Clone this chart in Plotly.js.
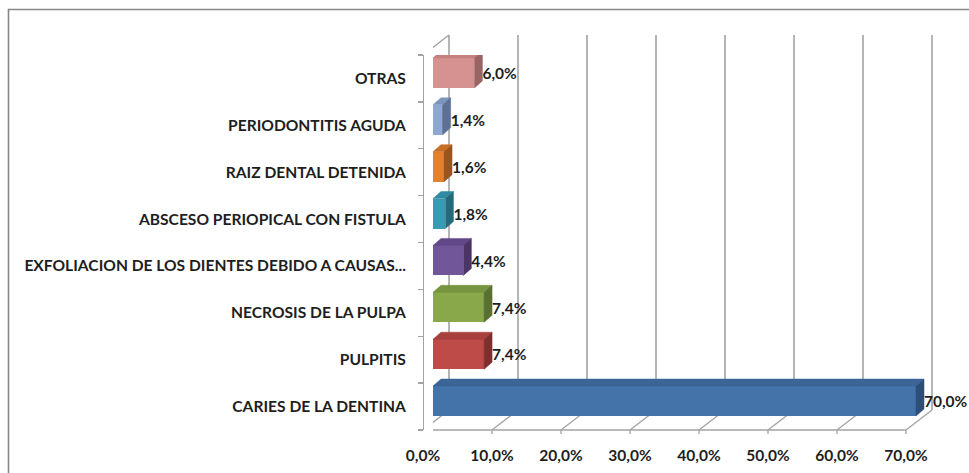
<!DOCTYPE html>
<html>
<head>
<meta charset="utf-8">
<script src="https://cdn.plot.ly/plotly-3.0.1.min.js"></script>
<style>html,body{margin:0;padding:0;background:#fff;}#chart{width:969px;height:473px;}</style>
</head>
<body>
<div id="chart"></div>
<script>
// ---- data ----
const categories = [
  'OTRAS',
  'PERIODONTITIS AGUDA',
  'RAIZ DENTAL DETENIDA',
  'ABSCESO PERIOPICAL CON FISTULA',
  'EXFOLIACION DE LOS DIENTES DEBIDO A CAUSAS...',
  'NECROSIS DE LA PULPA',
  'PULPITIS',
  'CARIES DE LA DENTINA'
];
const values = [6.0, 1.4, 1.6, 1.8, 4.4, 7.4, 7.4, 70.0];
const xTickVals = [0, 10, 20, 30, 40, 50, 60, 70];
const xTickText = ['0,0%', '10,0%', '20,0%', '30,0%', '40,0%', '50,0%', '60,0%', '70,0%'];
const frontColors = ['#d69291', '#8ea8d2', '#e3812f', '#389ab5', '#72569a', '#88a84a', '#be4b48', '#4473a9'];
const topColors   = ['#c47f7e', '#7c95bd', '#c96e25', '#2f8aa2', '#634888', '#779440', '#a73f3c', '#3b6597'];
const sideColors  = ['#9a6464', '#5e7194', '#9a541c', '#236a7c', '#4a3566', '#5a7030', '#7e2e2c', '#2c4e77'];

// ---- geometry (pixels) ----
const W = 969, H = 473;
const xRange = [0, 76];
const xAxisMax = 70;                             // last labelled value
const barPlaneLeft = 433;                        // bar front plane: value 0
const pxPerX = 6.9;                              // pixels per percentage point
const frontShift = -10, backShift = 16;          // axis front plane / back wall offsets
const frontTop = 55, frontBottom = 430;
const backTop = 35, backBottom = 410;
const depthX = 8, depthY = 7;                    // bar depth
const barUp = 5.5;                               // bars sit slightly behind the front plane
const barWidth = 0.64;
const n = categories.length;

const P = py => (H - py) / H;                    // pixel-from-top -> paper y
const barPlaneRight = barPlaneLeft + (xRange[1] - xRange[0]) * pxPerX;
const pxPerY = (frontBottom - frontTop) / n;
const dxU = depthX / pxPerX;
const dyU = depthY / pxPerY;
const upU = barUp / pxPerY;
const idx = categories.map((c, i) => i);

const FONT = 'Lato, "Open Sans", Arial, sans-serif';
const textColor = '#1e1e1e';
const gridColor = '#a3a3a3';

const traces = [];
traces.push({
  type: 'bar', orientation: 'h',
  x: values, y: idx,
  width: barWidth, offset: -barWidth / 2 - upU,
  marker: { color: frontColors, line: { width: 0 } },
  hoverinfo: 'x+text', text: categories, textposition: 'none'
});
values.forEach((v, i) => {
  const yt = i - barWidth / 2 - upU;
  const yb = i + barWidth / 2 - upU;
  traces.push({
    type: 'scatter', mode: 'lines', fill: 'toself', hoverinfo: 'skip', showlegend: false,
    x: [0, v, v + dxU, dxU, 0], y: [yt, yt, yt - dyU, yt - dyU, yt],
    fillcolor: topColors[i], line: { color: topColors[i], width: 0.5 }
  });
  traces.push({
    type: 'scatter', mode: 'lines', fill: 'toself', hoverinfo: 'skip', showlegend: false,
    x: [v, v + dxU, v + dxU, v, v], y: [yt, yt - dyU, yb - dyU, yb, yt],
    fillcolor: sideColors[i], line: { color: sideColors[i], width: 0.5 }
  });
});
traces.push({
  type: 'scatter', mode: 'text', hoverinfo: 'skip', showlegend: false, cliponaxis: false,
  x: values.map(v => v + dxU), y: idx.map(i => i - upU + 0.05),
  text: values.map(v => v.toFixed(1).replace('.', ',') + '%'),
  textposition: 'middle right',
  textfont: { family: FONT, size: 15.5, color: textColor, weight: 700 }
});

const shapes = [];
// outer chart frame
shapes.push({ type: 'rect', xref: 'paper', yref: 'paper', x0: 8.5 / W, x1: 1.2, y0: -0.2, y1: P(9.5),
  line: { color: '#878787', width: 1.6 }, layer: 'below' });
xTickVals.forEach(t => {
  // back wall gridline
  shapes.push({ type: 'line', xref: 'x', xsizemode: 'pixel', xanchor: t, x0: backShift, x1: backShift,
    yref: 'paper', y0: P(backBottom), y1: P(backTop), line: { color: gridColor, width: 1.6 }, layer: 'below' });
  // floor depth line
  shapes.push({ type: 'line', xref: 'x', xsizemode: 'pixel', xanchor: t, x0: frontShift, x1: backShift,
    yref: 'paper', y0: P(frontBottom), y1: P(backBottom), line: { color: gridColor, width: 1.3 }, layer: 'below' });
  // front tick
  shapes.push({ type: 'line', xref: 'x', xsizemode: 'pixel', xanchor: t, x0: frontShift, x1: frontShift,
    yref: 'paper', y0: P(frontBottom), y1: P(frontBottom + 4), line: { color: gridColor, width: 1.3 }, layer: 'below' });
});
// floor front edge
shapes.push({ type: 'line', xref: 'x', xsizemode: 'pixel', xanchor: xRange[0],
  x0: frontShift, x1: frontShift + (xAxisMax - xRange[0]) * pxPerX,
  yref: 'paper', y0: P(frontBottom), y1: P(frontBottom), line: { color: gridColor, width: 1.3 }, layer: 'below' });
// top-left wall edge
shapes.push({ type: 'line', xref: 'x', xsizemode: 'pixel', xanchor: xRange[0], x0: frontShift, x1: backShift,
  yref: 'paper', y0: P(frontTop), y1: P(backTop), line: { color: gridColor, width: 1.3 }, layer: 'below' });

const layout = {
  width: W, height: H, autosize: false,
  margin: { l: 0, r: 0, t: 0, b: 0 },
  paper_bgcolor: '#ffffff', plot_bgcolor: 'rgba(0,0,0,0)',
  showlegend: false, bargap: 0,
  font: { family: FONT, color: textColor },
  xaxis: {
    domain: [barPlaneLeft / W, barPlaneRight / W], range: xRange,
    tickmode: 'array', tickvals: xTickVals, ticktext: xTickText,
    ticks: '', showline: false, showgrid: false, zeroline: false,
    ticklabelshift: frontShift, ticklabelstandoff: 14,
    tickfont: { family: FONT, size: 15.5, color: textColor, weight: 700 },
    fixedrange: true
  },
  yaxis: {
    domain: [P(frontBottom), P(frontTop)], range: [n - 0.5, -0.5],
    anchor: 'free', position: (barPlaneLeft + frontShift) / W,
    tickmode: 'array', tickvals: idx, ticktext: categories,
    ticks: '', showline: true, linecolor: gridColor, linewidth: 1.3,
    showgrid: false, zeroline: false, ticklabelstandoff: 14,
    minor: { tickmode: 'linear', tick0: -0.5, dtick: 1, ticks: 'outside', ticklen: 5, tickcolor: gridColor, tickwidth: 1.3, showgrid: false },
    tickfont: { family: FONT, size: 15.6, color: textColor, weight: 700 },
    fixedrange: true
  },
  shapes: shapes
};

Plotly.newPlot('chart', traces, layout, { displayModeBar: false, staticPlot: true });
</script>
</body>
</html>
